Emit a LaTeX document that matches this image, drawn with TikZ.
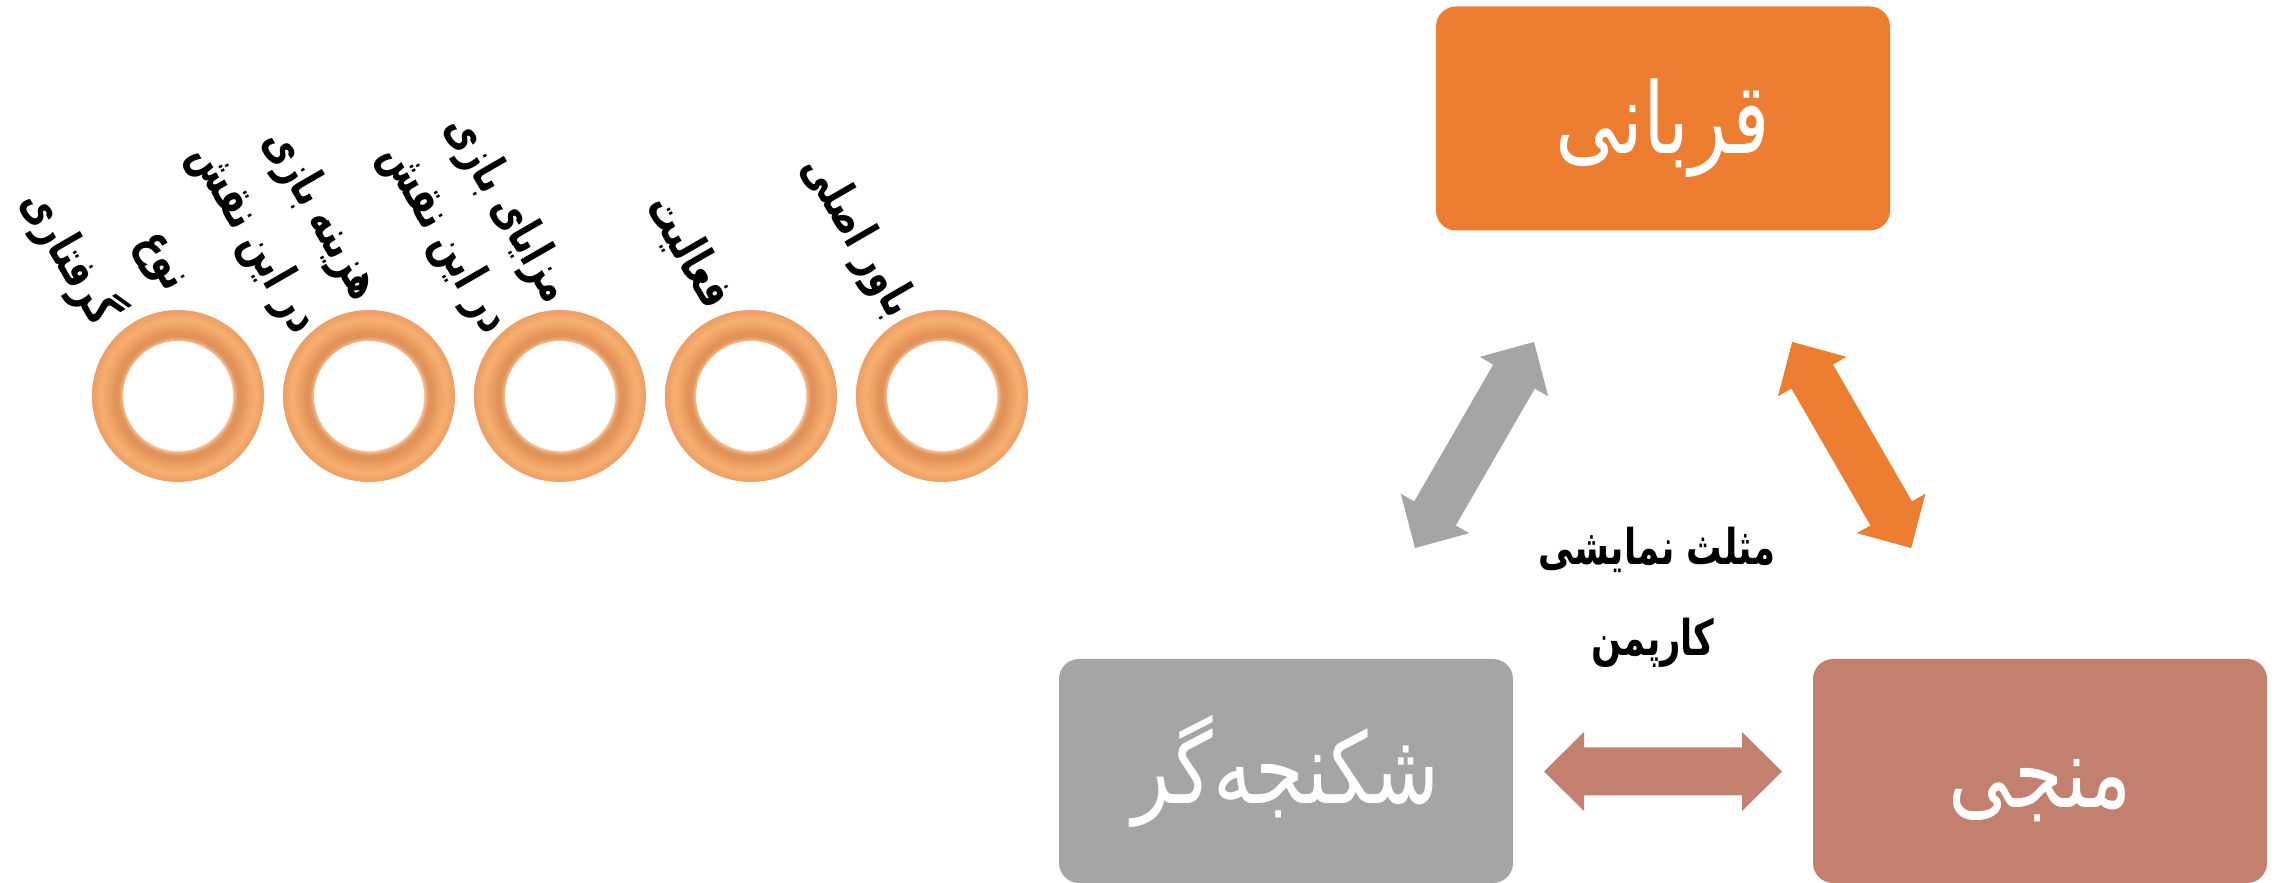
\documentclass[tikz,border=0pt]{standalone}
\usepackage{fontspec}
\TeXXeTstate=1
\newfontfamily\fabox[Script=Arabic, FakeStretch=0.8]{DejaVu Sans}
\newfontfamily\fabold[Script=Arabic, FakeStretch=0.72]{DejaVu Sans Bold}
\definecolor{boxorange}{HTML}{ED7D31}
\definecolor{boxgrey}{HTML}{A5A5A5}
\definecolor{boxrose}{HTML}{C4806F}
\definecolor{ringedge}{HTML}{EAA06C}
\definecolor{ringhi}{HTML}{F6AF72}
\definecolor{ringmid}{HTML}{F0A266}
\definecolor{ringdark}{HTML}{E19359}
\definecolor{ringrim}{HTML}{F5BE94}
% tube-like shading of one ring: outer radius 25bp, hole radius 16bp
\pgfdeclareradialshading{torus}{\pgfpoint{0bp}{0bp}}{%
  color(0bp)=(white); color(15.6bp)=(white);
  color(16.1bp)=(ringrim); color(17.3bp)=(ringdark);
  color(18.6bp)=(ringdark); color(20.4bp)=(ringmid);
  color(22.4bp)=(ringhi); color(24.2bp)=(ringmid);
  color(25bp)=(ringedge); color(50bp)=(ringedge)}
\begin{document}
\begin{tikzpicture}[x=0.1mm, y=-0.1mm,
  roundbox/.style={rounded corners=2mm, minimum width=45.4mm,
    minimum height=22.4mm, inner sep=0pt},
  boxtext/.style={text=white, inner sep=0pt,
    font=\fabox\fontsize{28}{32}\selectfont},
  lbl/.style={rotate=-60, inner sep=0pt,
    font=\fabold\fontsize{14}{17}\selectfont},
  title/.style={inner sep=0pt, font=\fabold\fontsize{14}{17}\selectfont},
  dblarrow/.pic={\fill (-119,0) -- (-79,-39.5) -- (-79,-24) -- (79,-24)
    -- (79,-39.5) -- (119,0) -- (79,39.5) -- (79,24) -- (-79,24)
    -- (-79,39.5) -- cycle;}]
\useasboundingbox (0,0) rectangle (2280,883);

% the three roles of the triangle
\node[roundbox, fill=boxorange,
  label={[boxtext, yshift=-1mm]center:\beginR قربانی\endR}] (victim) at (1663,118.5) {};
\node[roundbox, fill=boxgrey,
  label={[boxtext]center:\beginR شکنجه‌گر\endR}] (persecutor) at (1286,771) {};
\node[roundbox, fill=boxrose,
  label={[boxtext, yshift=-2mm]center:\beginR منجی\endR}] (rescuer) at (2040,771) {};

% two-headed block arrows between the roles
\coordinate (pv) at (1474.5,445);
\coordinate (vr) at (1851.7,445);
\coordinate (pr) at (1663,771.5);
\pic[rotate=60, color=boxgrey] at (pv) {dblarrow};
\pic[rotate=-60, color=boxorange] at (vr) {dblarrow};
\pic[color=boxrose] at (pr) {dblarrow};

% caption in the middle
\node[title] (t1) at (1657,550) {\beginR مثلث نمایشی\endR};
\node[title] (t2) at (1653,643) {\beginR کارپمن\endR};

% five rings
\foreach \cx/\nm in {178/r1,369/r2,560/r3,751/r4,942/r5}{
  \coordinate (\nm) at (\cx,396);
  \shade[shading=torus, even odd rule] (\nm) circle[radius=86] (\nm) circle[radius=55];
}

% slanted labels above the rings
\node[lbl] (l1a) at (158,264) {\beginR نوع\endR};
\node[lbl] (l1b) at (71,257) {\beginR گرفتاری\endR};
\node[lbl] (l2a) at (320,215) {\beginR هزینه بازی\endR};
\node[lbl] (l2b) at (253,239) {\beginR در این نقش\endR};
\node[lbl] (l3a) at (507,210) {\beginR مزایای بازی\endR};
\node[lbl] (l3b) at (444,239) {\beginR در این نقش\endR};
\node[lbl] (l4) at (689,252) {\beginR فعالیت\endR};
\node[lbl] (l5) at (857,237) {\beginR باور اصلی\endR};
\end{tikzpicture}
\end{document}
